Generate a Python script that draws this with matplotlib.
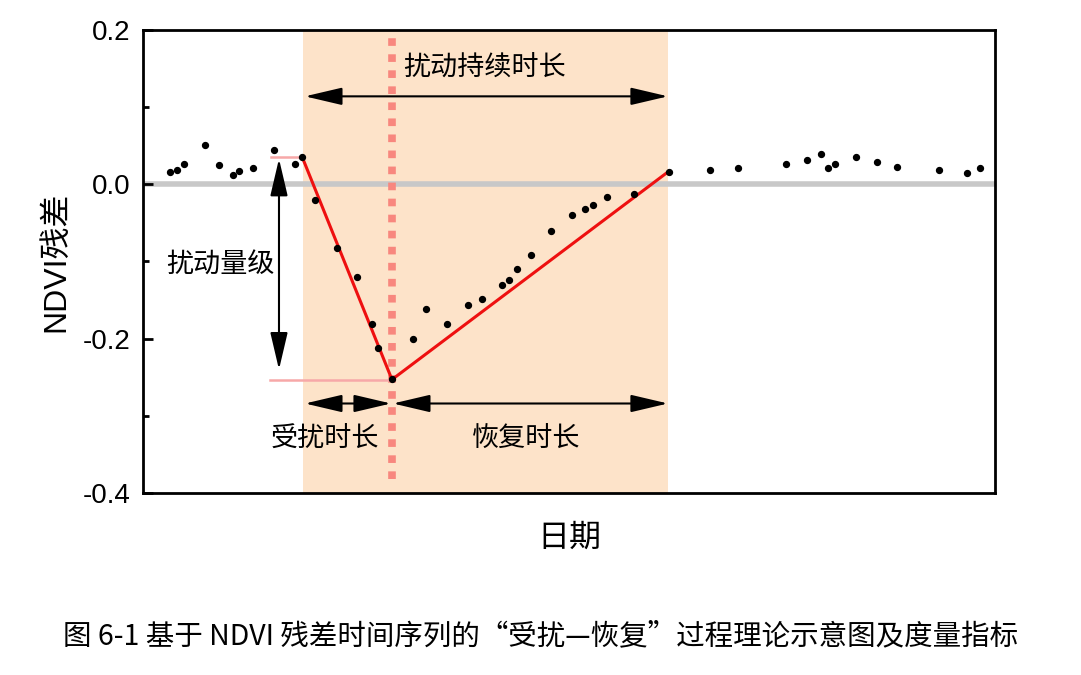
import numpy as np
import matplotlib.pyplot as plt

plt.rcParams['font.family'] = ['Liberation Sans', 'Noto Sans CJK SC', 'DejaVu Sans']

# NDVI residual time series (x = day index, y = residual)
days = [27, 34, 41, 62, 76, 90, 96, 110, 131, 152, 159, 172, 194, 214, 229, 235,
        249, 270, 283, 304, 325, 339, 359, 366, 374, 388, 408, 429, 442, 450, 464,
        491, 526, 567, 595, 643, 664, 678, 685, 692, 713, 734, 754, 796, 824, 837]
resid = [0.016, 0.019, 0.026, 0.051, 0.025, 0.012, 0.017, 0.021, 0.044, 0.026,
         0.036, -0.020, -0.082, -0.120, -0.181, -0.212, -0.252, -0.201, -0.161,
         -0.181, -0.156, -0.149, -0.131, -0.124, -0.110, -0.091, -0.061, -0.040,
         -0.032, -0.027, -0.016, -0.012, 0.016, 0.019, 0.021, 0.026, 0.031, 0.039,
         0.021, 0.026, 0.035, 0.029, 0.023, 0.019, 0.015, 0.021]

# disturbance / recovery model line
fit_days = [159, 249, 526]
fit_vals = [0.036, -0.253, 0.017]
dist_start, dist_min, recov_end = 160, 249, 525

fig = plt.figure(figsize=(10.81, 6.75), dpi=100)
ax = fig.add_axes([0.1323, 0.2696, 0.788, 0.686])

ax.axvspan(dist_start, recov_end, color='#fde3c9', zorder=0, lw=0)
ax.axhline(0, color='#c8c8c8', lw=4, zorder=1)
ax.axvline(dist_min, ymin=0.03, ymax=1, color='#f8877e', lw=5.5,
           dashes=(1.0, 1.1), zorder=2)

ax.plot([128, 159], [fit_vals[0], fit_vals[0]], color='#f7a8a8', lw=1.8, zorder=2)
ax.plot([127, 249], [fit_vals[1], fit_vals[1]], color='#f7a8a8', lw=1.8, zorder=2)
ax.plot(fit_days, fit_vals, color='#ee1010', lw=2.2, zorder=3)
ax.scatter(days, resid, s=18, color='black', zorder=4)

arrow = dict(arrowstyle='<|-|>,head_length=1.15,head_width=0.27',
             color='black', lw=1.5, mutation_scale=20, shrinkA=0, shrinkB=0)
ax.annotate('', xy=(dist_start + 2, 0.114), xytext=(recov_end, 0.114), arrowprops=arrow)
ax.annotate('', xy=(dist_start + 2, -0.284), xytext=(dist_min - 1, -0.284), arrowprops=arrow)
ax.annotate('', xy=(dist_min + 1, -0.284), xytext=(recov_end, -0.284), arrowprops=arrow)
ax.annotate('', xy=(136, 0.033), xytext=(136, -0.240), arrowprops=arrow)

tfont = ['Noto Sans CJK SC']
ax.text(342, 0.150, '扰动持续时长', ha='center', va='center', fontsize=19.5, family=tfont)
ax.text(77, -0.105, '扰动量级', ha='center', va='center', fontsize=19.5, family=tfont)
ax.text(182, -0.330, '受扰时长', ha='center', va='center', fontsize=19.5, family=tfont)
ax.text(383, -0.330, '恢复时长', ha='center', va='center', fontsize=19.5, family=tfont)

ax.set_xlim(0, 852)
ax.set_ylim(-0.4, 0.2)
ax.set_xticks([])
ax.set_yticks([-0.4, -0.2, 0.0, 0.2])
ax.set_yticklabels(['-0.4', '-0.2', '0.0', '0.2'])
ax.set_yticks([-0.3, -0.1, 0.1], minor=True)
ax.tick_params(axis='y', which='major', direction='in', length=7, width=2, labelsize=20, pad=9)
ax.tick_params(axis='y', which='minor', direction='in', length=4, width=2)
for s in ax.spines.values():
    s.set_linewidth(2)

ax.set_xlabel('日期', fontsize=23, labelpad=22)
ax.set_ylabel('NDVI残差', fontsize=23, labelpad=8)

fig.text(0.5, 0.057, '图 6-1 基于 NDVI 残差时间序列的“受扰—恢复”过程理论示意图及度量指标',
         ha='center', va='center', fontsize=20.5, family=['Noto Sans CJK SC'])

fig.savefig('out.png', dpi=100)
